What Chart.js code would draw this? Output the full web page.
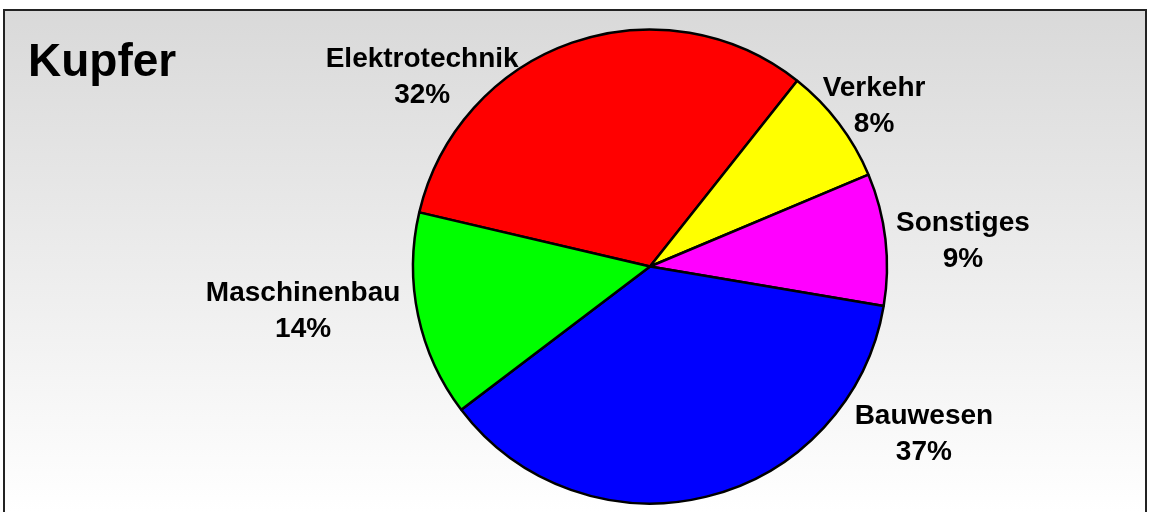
<!DOCTYPE html>
<html>
<head>
<meta charset="utf-8">
<title>Kupfer</title>
<script src="https://cdn.jsdelivr.net/npm/chart.js@4.4.0/dist/chart.umd.min.js"></script>
<style>
  html, body { margin: 0; padding: 0; background: #fff; }
  canvas { display: block; }
</style>
</head>
<body>
<canvas id="kupfer" width="1149" height="512"></canvas>
<script>
// copper usage by sector, percent
const sectors = ['Elektrotechnik', 'Verkehr', 'Sonstiges', 'Bauwesen', 'Maschinenbau'];
const shares = [32, 8, 9, 37, 14];
const sliceColors = ['#ff0000', '#ffff00', '#ff00ff', '#0000ff', '#00ff00'];

const FONT = "'Liberation Sans', Arial, sans-serif";

// gradient background, frame and title
const frame = {
  id: 'frame',
  beforeDraw(chart) {
    const ctx = chart.ctx;
    const w = chart.width, h = chart.height;
    ctx.save();
    ctx.fillStyle = '#ffffff';
    ctx.fillRect(0, 0, w, h);
    const g = ctx.createLinearGradient(0, 10, 0, h);
    g.addColorStop(0, '#d9d9d9');
    g.addColorStop(1, '#ffffff');
    ctx.fillStyle = g;
    ctx.fillRect(4, 10, w - 7, h);
    ctx.strokeStyle = '#222';
    ctx.lineWidth = 2;
    ctx.strokeRect(4, 10, w - 7, h + 20);
    ctx.fillStyle = '#000';
    ctx.font = 'bold 46px ' + FONT;
    ctx.textBaseline = 'alphabetic';
    ctx.fillText('Kupfer', 28, 76);
    ctx.restore();
  }
};

// labels outside the pie, placed by angle (deg from top) and distance (x radius)
const outsideLabels = {
  id: 'outsideLabels',
  afterDatasetsDraw(chart, args, opts) {
    const ctx = chart.ctx;
    const meta = chart.getDatasetMeta(0);
    const total = shares.reduce((a, b) => a + b, 0);
    ctx.save();
    ctx.font = 'bold 28px ' + FONT;
    ctx.fillStyle = '#000';
    ctx.textAlign = 'center';
    ctx.textBaseline = 'alphabetic';
    meta.data.forEach((arc, i) => {
      const p = opts.place[i];
      const a = p.angle * Math.PI / 180;
      const r = arc.outerRadius * p.dist;
      const lx = arc.x + Math.sin(a) * r;
      const ly = arc.y - Math.cos(a) * r;
      const pct = Math.round(shares[i] / total * 100) + '%';
      ctx.fillText(sectors[i], lx, ly - 8.5);
      ctx.fillText(pct, lx, ly + 27.5);
    });
    ctx.restore();
  }
};

new Chart(document.getElementById('kupfer'), {
  type: 'pie',
  data: {
    labels: sectors,
    datasets: [{
      data: shares,
      backgroundColor: sliceColors,
      borderColor: '#000',
      borderWidth: 2.5,
      radius: 237
    }]
  },
  options: {
    responsive: false,
    devicePixelRatio: 1,
    animation: false,
    events: [],
    rotation: -76.8,
    layout: { padding: { left: 151, right: 0, top: 21, bottom: 0 } },
    plugins: {
      legend: { display: false },
      tooltip: { enabled: false },
      outsideLabels: {
        place: [
          { angle: 310, dist: 1.255 },
          { angle: 54.1, dist: 1.167 },
          { angle: 85.1, dist: 1.325 },
          { angle: 121.2, dist: 1.351 },
          { angle: 262.9, dist: 1.475 }
        ]
      }
    }
  },
  plugins: [frame, outsideLabels]
});
</script>
</body>
</html>
